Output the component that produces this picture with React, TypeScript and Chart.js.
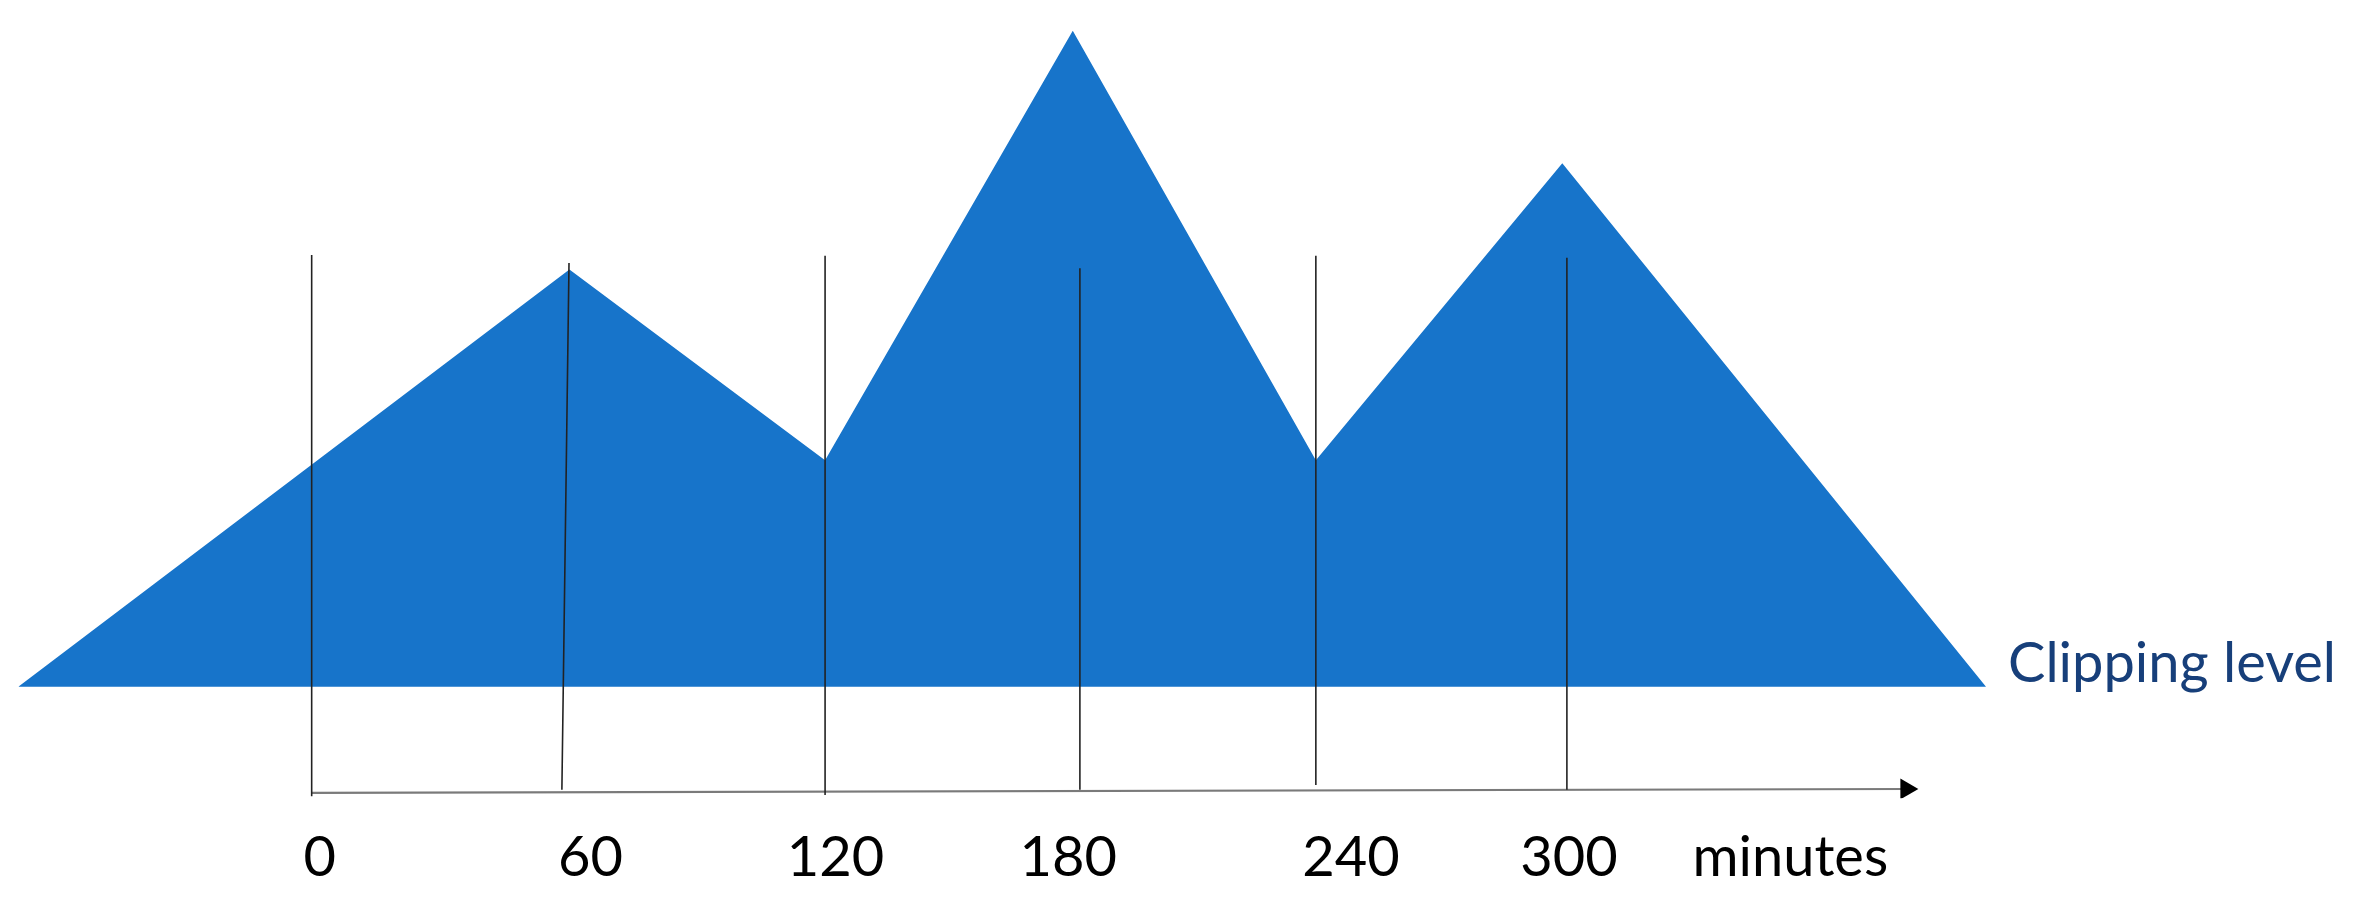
import React, { useEffect, useRef } from "react";
import { Chart, registerables } from "chart.js";

Chart.register(...registerables);

// Profile of the signal (minutes vs. relative level, clipping level = 0)
const profileMinutes = [-70, 61.5, 122.5, 181.6, 239.6, 298.4, 399.5];
const profileLevel = [0, 63.6, 34.5, 100, 34.5, 79.8, 0];

// Vertical marker lines at each hour mark
const markerTopX = [0, 61.4, 122.5, 183.3, 239.6, 299.5];
const markerBottomX = [0, 59.7, 122.5, 183.3, 239.6, 299.5];
const markerTop = [65.8, 64.6, 65.7, 63.8, 65.7, 65.4];
const markerBottom = [-16.7, -15.7, -16.5, -15.7, -15.0, -15.7];

// Time axis line with arrow
const axisX = [0, 380.5];
const axisY = [-16.2, -15.6];

// Tick labels
const tickPositions = [1.9, 66.5, 125, 180.5, 248, 300, 352.8];
const tickLabels = ["0", "60", "120", "180", "240", "300", "minutes"];

const clipLevel = 0;
const clipLabel = "Clipping level";

export default function App() {
  const ref = useRef<HTMLCanvasElement | null>(null);

  useEffect(() => {
    if (!ref.current) return;

    const markerData: any[] = [];
    markerTopX.forEach((x, i) => {
      markerData.push({ x, y: markerTop[i] });
      markerData.push({ x: markerBottomX[i], y: markerBottom[i] });
      markerData.push({ x: markerBottomX[i] + 1, y: null });
    });

    const clipLabelPlugin = {
      id: "clipLabel",
      afterDatasetsDraw(chart: any) {
        const { ctx, chartArea, scales } = chart;
        const y = scales.y.getPixelForValue(clipLevel);
        ctx.save();
        ctx.font = "56px Lato";
        ctx.fillStyle = "#173F7A";
        ctx.textBaseline = "alphabetic";
        ctx.textAlign = "left";
        ctx.fillText(clipLabel, chartArea.right + 22, y - 5);
        ctx.restore();
      },
    };

    const chart = new Chart(ref.current, {
      type: "line",
      data: {
        datasets: [
          {
            data: markerData,
            borderColor: "#222222",
            borderWidth: 1.6,
            pointRadius: 0,
            spanGaps: false,
            fill: false,
          },
          {
            data: axisX.map((x, i) => ({ x, y: axisY[i] })),
            borderColor: "#7a7a7a",
            borderWidth: 2.2,
            pointRadius: [0, 12],
            pointStyle: "triangle",
            rotation: 90,
            pointBackgroundColor: "#000000",
            pointBorderColor: "#000000",
            pointBorderWidth: 0,
            fill: false,
          },
          {
            data: profileMinutes.map((x, i) => ({ x, y: profileLevel[i] })),
            borderWidth: 0,
            borderColor: "#1774CA",
            backgroundColor: "#1774CA",
            pointRadius: 0,
            tension: 0,
            fill: { value: clipLevel },
          },
        ],
      } as any,
      options: {
        animation: false,
        responsive: false,
        devicePixelRatio: 1,
        layout: { padding: { left: 18.3, right: 372, top: 30.7, bottom: 0 } },
        plugins: { legend: { display: false }, tooltip: { enabled: false } },
        scales: {
          x: {
            type: "linear",
            position: "bottom",
            min: -70,
            max: 399.5,
            grid: { display: false, drawTicks: false },
            border: { display: false },
            afterBuildTicks: (axis: any) => {
              axis.ticks = tickPositions.map((v) => ({ value: v }));
            },
            afterFit: (scale: any) => {
              scale.height = 109.8;
            },
            ticks: {
              autoSkip: false,
              maxRotation: 0,
              minRotation: 0,
              padding: 26,
              color: "#000000",
              font: { family: "Lato", size: 56 },
              callback: (_v: any, i: number) => tickLabels[i],
            },
          },
          y: {
            type: "linear",
            display: false,
            min: -17,
            max: 100,
          },
        },
      } as any,
      plugins: [clipLabelPlugin],
    });

    return () => chart.destroy();
  }, []);

  return (
    <div style={{ position: "absolute", left: 0, top: 0, width: 2358, height: 908, background: "#fff" }}>
      <canvas ref={ref} width={2358} height={908} />
    </div>
  );
}
